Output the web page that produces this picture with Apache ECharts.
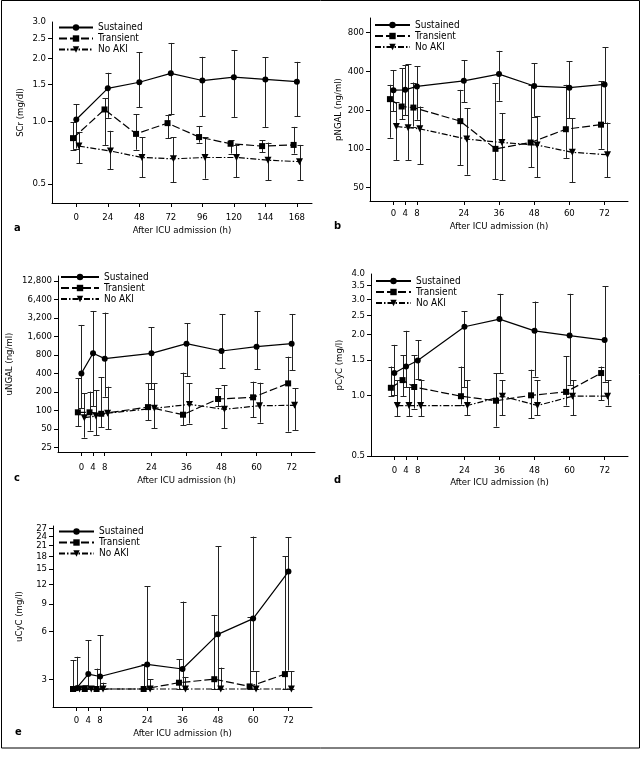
<!DOCTYPE html>
<html><head><meta charset="utf-8">
<script src="https://cdn.jsdelivr.net/npm/echarts@6/dist/echarts.min.js"></script>
<style>html,body{margin:0;padding:0;background:#fff}#c{width:642px;height:758px}</style>
</head><body><div id="c"></div>
<script>
const FONT = "'DejaVu Sans Condensed','Liberation Sans',sans-serif";
const FS = 9.5;
const groupNames = ['Sustained', 'Transient', 'No AKI'];

// x categories (hours after ICU admission)
const hoursA = [0, 24, 48, 72, 96, 120, 144, 168];
const hoursB = [0, 4, 8, 24, 36, 48, 60, 72];

// tick values / labels
const scrTicks = [0.5, 1.0, 1.5, 2.0, 2.5, 3.0];
const scrTickLabels = ['0.5', '1.0', '1.5', '2.0', '2.5', '3.0'];
const pngalTicks = [50, 100, 200, 400, 800];
const pngalTickLabels = ['50', '100', '200', '400', '800'];
const ungalTicks = [25, 50, 100, 200, 400, 800, 1600, 3200, 6400, 12800];
const ungalTickLabels = ['25', '50', '100', '200', '400', '800', '1,600', '3,200', '6,400', '12,800'];
const pcycTicks = [0.5, 1.0, 1.5, 2.0, 2.5, 3.0, 3.5, 4.0];
const pcycTickLabels = ['0.5', '1.0', '1.5', '2.0', '2.5', '3.0', '3.5', '4.0'];
const ucycTicks = [3, 6, 9, 12, 15, 18, 21, 24, 27];
const ucycTickLabels = ['3', '6', '9', '12', '15', '18', '21', '24', '27'];

// a: SCr (mg/dl)
const scrSustained      = [1.02, 1.44, 1.54, 1.70, 1.57, 1.63, 1.59, 1.55];
const scrSustainedLow   = [0.74, 1.04, 1.17, 1.08, 1.06, 1.05, 0.94, 1.06];
const scrSustainedHigh  = [1.21, 1.71, 2.15, 2.38, 2.04, 2.20, 2.03, 1.93];
const scrTransient      = [0.83, 1.14, 0.87, 0.98, 0.84, 0.78, 0.76, 0.77];
const scrTransientLow   = [0.73, 0.77, 0.73, 0.83, 0.79, 0.70, 0.71, 0.70];
const scrTransientHigh  = [0.99, 1.29, 1.08, 1.07, 0.95, 0.81, 0.81, 0.94];
const scrNoAki          = [0.76, 0.72, 0.67, 0.66, 0.67, 0.67, 0.65, 0.64];
const scrNoAkiLow       = [0.63, 0.59, 0.54, 0.51, 0.53, 0.54, 0.52, 0.52];
const scrNoAkiHigh      = [0.89, 0.90, 0.84, 0.84, 0.84, 0.77, 0.79, 0.77];

// b: pNGAL (ng/ml)
const pngalSustained     = [285, 287, 305, 337, 380, 307, 298, 316];
const pngalSustainedLow  = [195, 183, 168, 230, 236, 178, 173, 158];
const pngalSustainedHigh = [408, 445, 436, 485, 576, 462, 476, 612];
const pngalTransient     = [243, 213, 209, 164, 100, 112, 142, 154];
const pngalTransientLow  = [122, 170, 149, 75, 58, 72, 85, 100];
const pngalTransientHigh = [314, 423, 327, 287, 323, 314, 314, 335];
const pngalNoAki         = [149, 146, 143, 119, 112, 107, 94, 90];
const pngalNoAkiLow      = [82, 82, 76, 63, 57, 60, 55, 60];
const pngalNoAkiHigh     = [230, 452, 213, 207, 189, 180, 173, 160];

// c: uNGAL (ng/ml)
const ungalSustained     = [400, 849, 695, 849, 1220, 926, 1090, 1220];
const ungalSustainedLow  = [108, 118, 167, 220, 363, 489, 471, 454];
const ungalSustainedHigh = [2460, 4150, 3900, 2250, 2620, 3710, 4150, 3710];
const ungalTransient     = [93, 93, 88, 113, 85, 153, 163, 275];
const ungalTransientLow  = [55, 47, 53, 69, 57, 116, 77, 45];
const ungalTransientHigh = [332, 202, 345, 276, 411, 230, 293, 748];
const ungalNoAki         = [76, 81, 90, 108, 125, 104, 119, 121];
const ungalNoAkiLow      = [36, 39, 49, 51, 61, 51, 63, 48];
const ungalNoAkiHigh     = [189, 214, 243, 276, 276, 259, 282, 228];

// d: pCyC (mg/l)
const pcycSustained     = [1.29, 1.39, 1.49, 2.19, 2.39, 2.09, 1.98, 1.88];
const pcycSustainedLow  = [1.00, 1.10, 1.20, 1.10, 1.29, 1.24, 1.13, 1.17];
const pcycSustainedHigh = [1.78, 2.09, 1.88, 2.62, 3.19, 2.92, 3.19, 3.47];
const pcycTransient     = [1.09, 1.19, 1.10, 0.99, 0.94, 1.00, 1.04, 1.29];
const pcycTransientLow  = [0.99, 0.99, 0.86, 0.90, 0.70, 0.77, 0.89, 0.945];
const pcycTransientHigh = [1.39, 1.58, 1.58, 1.39, 1.29, 1.34, 1.56, 1.39];
const pcycNoAki         = [0.89, 0.89, 0.89, 0.89, 0.99, 0.89, 0.99, 0.99];
const pcycNoAkiLow      = [0.79, 0.79, 0.79, 0.795, 0.795, 0.795, 0.795, 0.89];
const pcycNoAkiHigh     = [1.19, 1.10, 1.19, 1.19, 1.19, 1.19, 1.19, 1.19];

// e: uCyC (mg/l)
const ucycSustained     = [2.63, 3.23, 3.12, 3.72, 3.48, 5.77, 7.26, 14.4];
const ucycSustainedLow  = [2.6, 2.6, 2.6, 2.6, 2.6, 2.6, 3.4, 3.4];
const ucycSustainedHigh = [4.16, 5.31, 5.71, 11.6, 9.3, 20.8, 24.0, 23.7];
const ucycTransient     = [2.6, 2.6, 2.6, 2.6, 2.85, 3.0, 2.7, 3.23];
const ucycTransientLow  = [2.6, 2.6, 2.6, 2.6, 2.6, 2.6, 2.6, 2.6];
const ucycTransientHigh = [3.96, 2.75, 3.5, 3.74, 4.0, 7.66, 7.4, 18];
const ucycNoAki         = [2.6, 2.6, 2.6, 2.6, 2.6, 2.6, 2.6, 2.6];
const ucycNoAkiLow      = [2.6, 2.6, 2.6, 2.6, 2.6, 2.6, 2.6, 2.6];
const ucycNoAkiHigh     = [2.6, 2.7, 2.85, 3.0, 3.1, 3.55, 3.37, 3.37];

// ---- layout / style (not data) ----
const panels = [
  {letter: 'a', hours: hoursA, grid: {left: 52, top: 22, width: 260, height: 181}, xMin: -18.5, xMax: 179.5,
   yMin: 0.405, yMax: 3.0, yTicks: scrTicks, yLabels: scrTickLabels, yName: 'SCr (mg/dl)', yNameGap: 26,
   xLabelMargin: 10, xNameGap: 23, legend: {left: 58, top: 22.5, w: 34}, letterPos: [17, 230], jitter: [0, -2.5, 2],
   groups: [[scrSustained, scrSustainedLow, scrSustainedHigh], [scrTransient, scrTransientLow, scrTransientHigh], [scrNoAki, scrNoAkiLow, scrNoAkiHigh]]},
  {letter: 'b', hours: hoursB, grid: {left: 370, top: 18, width: 258, height: 183}, xMin: -8, xMax: 80,
   yMin: 39.4, yMax: 1035, yTicks: pngalTicks, yLabels: pngalTickLabels, yName: 'pNGAL (ng/ml)', yNameGap: 25,
   xLabelMargin: 7.5, xNameGap: 21, legend: {left: 374, top: 20, w: 35}, letterPos: [337, 227.5], jitter: [0, -1.2, 1],
   groups: [[pngalSustained, pngalSustainedLow, pngalSustainedHigh], [pngalTransient, pngalTransientLow, pngalTransientHigh], [pngalNoAki, pngalNoAkiLow, pngalNoAkiHigh]]},
  {letter: 'c', hours: hoursB, grid: {left: 58, top: 276, width: 257, height: 176}, xMin: -8, xMax: 80,
   yMin: 21, yMax: 15400, yTicks: ungalTicks, yLabels: ungalTickLabels, yName: 'uNGAL (ng/ml)', yNameGap: 43,
   xLabelMargin: 10.5, xNameGap: 24, legend: {left: 60, top: 272, w: 38}, letterPos: [17, 479.5], jitter: [0, -1.2, 1],
   groups: [[ungalSustained, ungalSustainedLow, ungalSustainedHigh], [ungalTransient, ungalTransientLow, ungalTransientHigh], [ungalNoAki, ungalNoAkiLow, ungalNoAkiHigh]]},
  {letter: 'd', hours: hoursB, grid: {left: 371, top: 274, width: 257, height: 182}, xMin: -8, xMax: 80,
   yMin: 0.5, yMax: 4.0, yTicks: pcycTicks, yLabels: pcycTickLabels, yName: 'pCyC (mg/l)', yNameGap: 26,
   xLabelMargin: 10, xNameGap: 22, legend: {left: 375, top: 276, w: 35}, letterPos: [337, 482], jitter: [0, -1.2, 1],
   groups: [[pcycSustained, pcycSustainedLow, pcycSustainedHigh], [pcycTransient, pcycTransientLow, pcycTransientHigh], [pcycNoAki, pcycNoAkiLow, pcycNoAkiHigh]]},
  {letter: 'e', hours: hoursB, grid: {left: 53, top: 526, width: 259, height: 181}, xMin: -8, xMax: 80,
   yMin: 2.0, yMax: 28, yTicks: ucycTicks, yLabels: ucycTickLabels, yName: 'uCyC (mg/l)', yNameGap: 28,
   xLabelMargin: 9, xNameGap: 22, legend: {left: 58, top: 526.5, w: 35}, letterPos: [18, 734], jitter: [0, -1.2, 1],
   groups: [[ucycSustained, ucycSustainedLow, ucycSustainedHigh], [ucycTransient, ucycTransientLow, ucycTransientHigh], [ucycNoAki, ucycNoAkiLow, ucycNoAkiHigh]]}
];

const groupStyle = [
  {symbol: 'circle', size: 6, rotate: 0, dash: 'solid'},
  {symbol: 'rect', size: 6, rotate: 0, dash: [8, 3]},
  {symbol: 'triangle', size: 7, rotate: 180, dash: [6, 2, 1.5, 2]}
];

const L = v => Math.log10(v);
const txt = {fontFamily: FONT, fontSize: FS, color: '#000'};

function errRender(params, api) {
  const x = api.value(0), lo = api.value(1), hi = api.value(2);
  const p1 = api.coord([x, lo]), p2 = api.coord([x, hi]);
  const cx = Math.round(p1[0]) + 0.5;
  const w = 3;
  const style = {stroke: '#222', lineWidth: 1, fill: null};
  return {type: 'group', children: [
    {type: 'line', shape: {x1: cx, y1: p1[1], x2: cx, y2: p2[1]}, style: style},
    {type: 'line', shape: {x1: cx - w, y1: Math.round(p1[1]) + 0.5, x2: cx + w, y2: Math.round(p1[1]) + 0.5}, style: style},
    {type: 'line', shape: {x1: cx - w, y1: Math.round(p2[1]) + 0.5, x2: cx + w, y2: Math.round(p2[1]) + 0.5}, style: style}
  ]};
}

const grids = [], xAxes = [], yAxes = [], legends = [], series = [], graphics = [];
panels.forEach((p, i) => {
  grids.push(Object.assign({containLabel: false}, p.grid));
  xAxes.push({
    type: 'value', gridIndex: i, min: p.xMin, max: p.xMax,
    axisLine: {show: true, onZero: false, lineStyle: {color: '#000', width: 1}},
    axisTick: {show: true, customValues: p.hours.slice(), length: 4, lineStyle: {color: '#000'}},
    axisLabel: Object.assign({customValues: p.hours.slice(), margin: p.xLabelMargin, hideOverlap: false}, txt),
    splitLine: {show: false},
    name: 'After ICU admission (h)', nameLocation: 'middle', nameGap: p.xNameGap, nameTextStyle: txt
  });
  const logTicks = p.yTicks.map(L);
  const yMaxLog = L(p.yMax);
  // an empty placeholder label at the axis end absorbs the automatic max-label hiding
  const labelVals = logTicks.concat([yMaxLog]);
  yAxes.push({
    type: 'value', gridIndex: i, min: L(p.yMin), max: yMaxLog,
    axisLine: {show: true, onZero: false, lineStyle: {color: '#000', width: 1}},
    axisTick: {show: true, customValues: logTicks, length: 4, lineStyle: {color: '#000'}},
    axisLabel: Object.assign({customValues: labelVals, margin: 6, hideOverlap: false, showMaxLabel: false, showMinLabel: true,
      formatter: (v, idx) => { if (idx === labelVals.length - 1) return ''; for (let k = 0; k < logTicks.length; k++) { if (Math.abs(logTicks[k] - v) < 1e-6) return p.yLabels[k]; } return ''; }}, txt),
    splitLine: {show: false},
    name: p.yName, nameLocation: 'middle', nameGap: p.yNameGap, nameTextStyle: txt
  });
  legends.push({
    left: p.legend.left, top: p.legend.top, orient: 'vertical', itemWidth: p.legend.w, itemHeight: 8, itemGap: 1,
    padding: 0, selectedMode: false, textStyle: Object.assign({}, txt, {fontSize: 10}), data: groupNames.slice()
  });
  p.groups.forEach((g, gi) => {
    const off = p.jitter[gi];
    series.push({
      type: 'custom', xAxisIndex: i, yAxisIndex: i, renderItem: errRender, silent: true, clip: false, z: 1,
      encode: {x: 0, y: [1, 2]},
      data: p.hours.map((h, k) => [h + off, L(g[1][k]), L(g[2][k])])
    });
  });
  p.groups.forEach((g, gi) => {
    const st = groupStyle[gi];
    const off = p.jitter[gi];
    series.push({
      type: 'line', name: groupNames[gi], xAxisIndex: i, yAxisIndex: i, z: 3,
      symbol: st.symbol, symbolSize: st.size, symbolRotate: st.rotate, showSymbol: true, silent: true,
      itemStyle: {color: '#000', borderWidth: 0},
      lineStyle: {color: '#000', width: 1.2, type: st.dash},
      data: p.hours.map((h, k) => [h + off, L(g[0][k])])
    });
  });
  graphics.push({type: 'text', left: p.letterPos[0] - 3, top: p.letterPos[1] - 7,
    style: {text: p.letter, font: "bold 11px " + FONT, fill: '#000'}});
});
graphics.push({type: 'rect', shape: {x: 1.5, y: 0.5, width: 638, height: 747.5},
  style: {stroke: '#000', fill: null, lineWidth: 1}, silent: true, z: -1});

const chart = echarts.init(document.getElementById('c'), null, {renderer: 'canvas'});
chart.setOption({
  backgroundColor: '#fff', animation: false,
  grid: grids, xAxis: xAxes, yAxis: yAxes, legend: legends, series: series, graphic: graphics
});
</script></body></html>
